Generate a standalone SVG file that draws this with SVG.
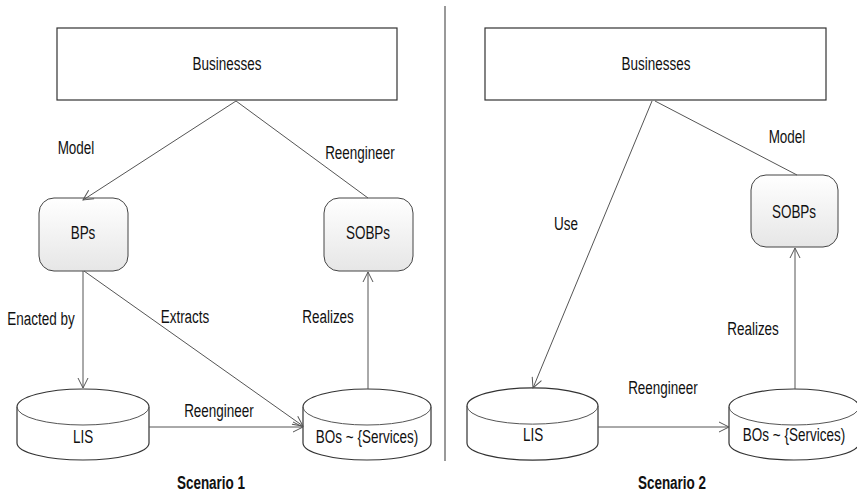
<svg xmlns="http://www.w3.org/2000/svg" width="857" height="495" viewBox="0 0 857 495">
<style>
.box{fill:#fff;stroke:#333;stroke-width:1.2}
.rr{fill:url(#g);stroke:#444;stroke-width:1}
.cyl{fill:#fff;stroke:#333;stroke-width:1.2}
.ln{fill:none;stroke:#555;stroke-width:1}
.arr{marker-end:url(#ah)}
text{font-family:"Liberation Sans",Arial,sans-serif;font-size:13.5px;fill:#111;text-anchor:middle}
.t{font-weight:bold}
</style>
<defs>
<linearGradient id="g" x1="0" y1="0" x2="0" y2="1">
<stop offset="0" stop-color="#ffffff"/>
<stop offset="1" stop-color="#e6e6e6"/>
</linearGradient>
<marker id="ah" viewBox="0 0 12 12" refX="11" refY="6" markerWidth="12" markerHeight="12" markerUnits="userSpaceOnUse" orient="auto">
<path d="M1,1 L11,6 L1,11" fill="none" stroke="#555" stroke-width="1"/>
</marker>
</defs>
<line x1="445" y1="6" x2="445" y2="461" stroke="#555" stroke-width="1.2"/>
<g id="s1-businesses"><rect class="box" x="57" y="28" width="340" height="72"/><text transform="translate(227,70) scale(1,1.3)">Businesses</text></g>
<g id="s1-bps"><rect class="rr" x="39" y="198" width="89" height="73" rx="15"/><text transform="translate(83,239) scale(1,1.3)">BPs</text></g>
<g id="s1-sobps"><rect class="rr" x="324" y="198" width="89" height="73" rx="15"/><text transform="translate(368,239) scale(1,1.3)">SOBPs</text></g>
<g id="s1-lis"><path class="cyl" d="M17,407 A66,18 0 0 1 149,407 L149,443 A66,17 0 0 1 17,443 Z"/><path class="ln" d="M17,407 A66,18 0 0 0 149,407" stroke="#333"/><text transform="translate(83,443) scale(1,1.3)">LIS</text></g>
<g id="s1-bos"><path class="cyl" d="M303,407 A64,18 0 0 1 431,407 L431,443 A64,17 0 0 1 303,443 Z"/><path class="ln" d="M303,407 A64,18 0 0 0 431,407" stroke="#333"/><text transform="translate(367,443) scale(1,1.3)">BOs ~ {Services)</text></g>
<g id="s2-businesses"><rect class="box" x="485" y="28" width="341" height="72"/><text transform="translate(656,70) scale(1,1.3)">Businesses</text></g>
<g id="s2-sobps"><rect class="rr" x="751" y="175" width="87" height="72" rx="15"/><text transform="translate(794,218) scale(1,1.3)">SOBPs</text></g>
<g id="s2-lis"><path class="cyl" d="M467,406 A65,18 0 0 1 598,406 L598,443 A65,17 0 0 1 467,443 Z"/><path class="ln" d="M467,406 A65,18 0 0 0 598,406" stroke="#333"/><text transform="translate(533,441) scale(1,1.3)">LIS</text></g>
<g id="s2-bos"><path class="cyl" d="M729,407 A65,18 0 0 1 859,407 L859,443 A65,17 0 0 1 729,443 Z"/><path class="ln" d="M729,407 A65,18 0 0 0 859,407" stroke="#333"/><text transform="translate(794,441) scale(1,1.3)">BOs ~ {Services)</text></g>
<g id="connectors">
<line class="ln arr" x1="236" y1="101" x2="83" y2="200"/>
<line class="ln" x1="236" y1="101" x2="368" y2="198"/>
<line class="ln arr" x1="83" y1="271" x2="83" y2="388"/>
<line class="ln arr" x1="84" y1="271" x2="303" y2="426"/>
<line class="ln arr" x1="368" y1="389" x2="368" y2="272"/>
<line class="ln arr" x1="149" y1="427" x2="303" y2="427"/>
<line class="ln arr" x1="652" y1="101" x2="533" y2="388"/>
<line class="ln" x1="655" y1="101" x2="797" y2="175"/>
<line class="ln arr" x1="795" y1="389" x2="795" y2="248"/>
<line class="ln arr" x1="598" y1="427" x2="729" y2="427"/>
</g>
<g id="labels">
<text transform="translate(76,154) scale(1,1.3)">Model</text>
<text transform="translate(360,159) scale(1,1.3)">Reengineer</text>
<text transform="translate(41,325) scale(1,1.3)">Enacted by</text>
<text transform="translate(185,323) scale(1,1.3)">Extracts</text>
<text transform="translate(328,323) scale(1,1.3)">Realizes</text>
<text transform="translate(219,417) scale(1,1.3)">Reengineer</text>
<text class="t" transform="translate(211,489) scale(1,1.3)">Scenario 1</text>
<text transform="translate(566,230) scale(1,1.3)">Use</text>
<text transform="translate(787,143) scale(1,1.3)">Model</text>
<text transform="translate(753,335) scale(1,1.3)">Realizes</text>
<text transform="translate(663,394) scale(1,1.3)">Reengineer</text>
<text class="t" transform="translate(672,489) scale(1,1.3)">Scenario 2</text>
</g>
</svg>
